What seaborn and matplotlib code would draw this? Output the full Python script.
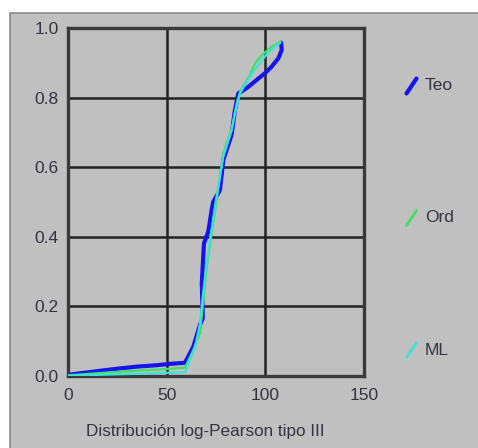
import matplotlib
matplotlib.use("Agg")
import matplotlib.pyplot as plt
from matplotlib.lines import Line2D
from matplotlib.patches import Rectangle
import pandas as pd
import seaborn as sns

# Empirical / fitted cumulative probabilities
teo_x = [0, 5, 15, 25, 35, 45, 52, 59.3, 63.5, 66.9, 68.3, 67.8, 68.9, 71.1, 72.8,
         73.6, 77.0, 78.7, 82.9, 84.6, 85.5, 86.3, 88.0, 91.4, 96.5, 99.8, 103.2,
         106.6, 108.3, 108.0]
teo_y = [0.003, 0.007, 0.014, 0.021, 0.027, 0.031, 0.035, 0.038, 0.084, 0.147, 0.166,
         0.266, 0.381, 0.415, 0.477, 0.501, 0.534, 0.621, 0.693, 0.764, 0.790, 0.812,
         0.818, 0.831, 0.855, 0.870, 0.889, 0.913, 0.937, 0.958]

ord_x = [0, 10, 25, 40, 50, 59.3, 63.5, 66.9, 68.6, 70.3, 72.8, 75.3, 78.7, 82.9,
         85.5, 87.2, 89.7, 92.2, 94.8, 98.2, 103.2, 107.8]
ord_y = [0.002, 0.006, 0.012, 0.017, 0.020, 0.024, 0.075, 0.123, 0.218, 0.314, 0.410,
         0.506, 0.640, 0.710, 0.783, 0.817, 0.841, 0.865, 0.899, 0.922, 0.946, 0.962]

ml_x = [0, 20, 45, 59.3, 64.4, 66.9, 68.1, 70.0, 72.5, 75.0, 78.7, 82.9, 85.5, 87.2,
        90.5, 96.5, 101.5, 107.6]
ml_y = [0.001, 0.004, 0.008, 0.011, 0.084, 0.150, 0.218, 0.314, 0.410, 0.506, 0.630,
        0.705, 0.778, 0.812, 0.845, 0.895, 0.930, 0.958]

series_names = ["Teo", "Ord", "ML"]
x_ticks = [0, 50, 100, 150]
y_ticks = [0.0, 0.2, 0.4, 0.6, 0.8, 1.0]
x_label = "Distribución log-Pearson tipo III"

colors = {"Teo": "#1414f0", "Ord": "#3ee060", "ML": "#3ee0dc"}
widths = {"Teo": 3.0, "Ord": 1.6, "ML": 1.6}

frames = []
for name, xs, ys in zip(series_names, [teo_x, ord_x, ml_x], [teo_y, ord_y, ml_y]):
    frames.append(pd.DataFrame({"x": xs, "F": ys, "serie": name, "i": range(len(xs))}))
data = pd.concat(frames, ignore_index=True)

sns.set_style("white")
plt.rcParams["font.family"] = ["Liberation Sans", "DejaVu Sans"]

W, H = 478, 448
text_color = "#34343f"
fig = plt.figure(figsize=(W / 100, H / 100), dpi=100)
fig.patch.set_facecolor("white")

# grey panel behind everything (open to the right and bottom edges)
fig.add_artist(Rectangle((10 / W, -0.05), 1.2, 1.05 - 13 / H, transform=fig.transFigure,
                         facecolor="#c0c0c0", edgecolor="#8a8a8a", linewidth=1.2, zorder=0))

ax = fig.add_axes([68 / W, 1 - 376 / H, (364 - 68) / W, (376 - 28) / H])
ax.set_facecolor("#c0c0c0")
ax.set_zorder(1)

for name in series_names:
    sub = data[data["serie"] == name]
    sns.lineplot(data=sub, x="x", y="F", sort=False, estimator=None, units="serie",
                 color=colors[name], linewidth=widths[name], ax=ax, legend=False,
                 solid_capstyle="round", solid_joinstyle="round", zorder=3)

ax.set_xlim(0, 150)
ax.set_ylim(0, 1)
ax.set_xticks(x_ticks)
ax.set_yticks(y_ticks)
ax.set_xticklabels([str(t) for t in x_ticks])
ax.set_yticklabels([f"{t:.1f}" for t in y_ticks])
ax.grid(True, color="#222222", linewidth=1.8, zorder=1)
ax.set_axisbelow(True)
for sp in ax.spines.values():
    sp.set_color("#3a3a3a")
    sp.set_linewidth(2.4)
ax.tick_params(axis="both", direction="out", length=5.5, width=1.6, color="#3a3a3a",
               labelsize=12.5, labelcolor=text_color, pad=1)
ax.tick_params(axis="x", pad=3)
ax.set_xlabel(x_label, fontsize=12.3, color=text_color)
ax.xaxis.set_label_coords((205 - 68) / (364 - 68), -(431 - 376) / (376 - 28))
ax.xaxis.label.set_va("center")
ax.set_ylabel("")

# legend: slanted line samples with labels
legend_y = [86, 218, 350]
for name, yc in zip(series_names, legend_y):
    x0, x1 = 406.5 / W, 416.5 / W
    y0, y1 = 1 - (yc + 7.5) / H, 1 - (yc - 7.5) / H
    fig.add_artist(Line2D([x0, x1], [y0, y1], transform=fig.transFigure,
                          color=colors[name], linewidth=3.0 if name == "Teo" else 2.0,
                          solid_capstyle="round", zorder=5))
    fig.text(425 / W, 1 - yc / H, name, fontsize=12.5, color=text_color,
             ha="left", va="center", zorder=5)

fig.savefig("out.png", dpi=100, facecolor="white")
